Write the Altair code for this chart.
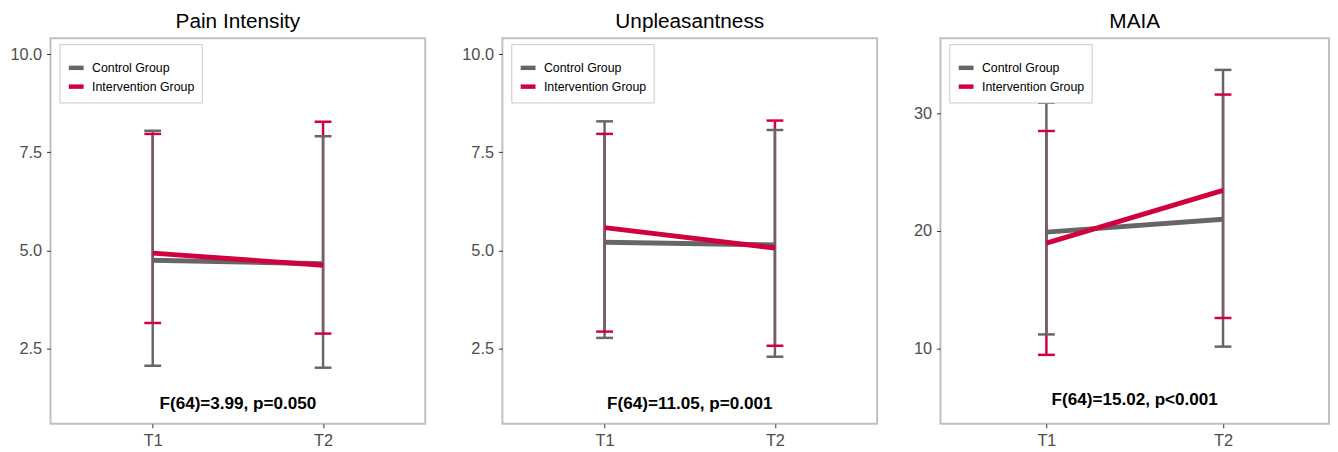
import altair as alt
import pandas as pd

times = ["T1", "T2"]
groups = ["Control Group", "Intervention Group"]
group_colors = ["#666666", "#D1003F"]

titles = ["Pain Intensity", "Unpleasantness", "MAIA"]
stats_text = ["F(64)=3.99, p=0.050", "F(64)=11.05, p=0.001", "F(64)=15.02, p<0.001"]
stats_y = [1.08, 1.08, 5.57]

pain_mean_ctrl = [4.75, 4.66]
pain_low_ctrl = [2.06, 2.01]
pain_high_ctrl = [8.05, 7.91]
pain_mean_int = [4.93, 4.62]
pain_low_int = [3.15, 2.88]
pain_high_int = [7.97, 8.28]

unp_mean_ctrl = [5.21, 5.14]
unp_low_ctrl = [2.77, 2.29]
unp_high_ctrl = [8.29, 8.07]
unp_mean_int = [5.58, 5.06]
unp_low_int = [2.93, 2.57]
unp_high_int = [7.97, 8.31]

maia_mean_ctrl = [19.89, 20.99]
maia_low_ctrl = [11.18, 10.14]
maia_high_ctrl = [30.9, 33.7]
maia_mean_int = [18.96, 23.45]
maia_low_int = [9.44, 12.58]
maia_high_int = [28.5, 31.6]

y_domains = [[0.58, 10.41], [0.58, 10.41], [3.57, 36.4]]
y_ticks = [[2.5, 5.0, 7.5, 10.0], [2.5, 5.0, 7.5, 10.0], [10, 20, 30]]
y_formats = [".1f", ".1f", "d"]
panel_widths = [379, 379, 393]
panel_height = 390

FONT = "Liberation Sans"

panel_data = [
    (pain_mean_ctrl, pain_low_ctrl, pain_high_ctrl, pain_mean_int, pain_low_int, pain_high_int),
    (unp_mean_ctrl, unp_low_ctrl, unp_high_ctrl, unp_mean_int, unp_low_int, unp_high_int),
    (maia_mean_ctrl, maia_low_ctrl, maia_high_ctrl, maia_mean_int, maia_low_int, maia_high_int),
]


def make_panel(i):
    mc, lc, hc, mi, li, hi = panel_data[i]
    w = panel_widths[i]
    rows = []
    # intervention first so control error bars are drawn on top
    for g, m, lo, hi_ in [(groups[1], mi, li, hi), (groups[0], mc, lc, hc)]:
        for t, a, b, c in zip(times, m, lo, hi_):
            rows.append({"time": t, "group": g, "mean": a, "low": b, "high": c})
    err_df = pd.DataFrame(rows)
    line_rows = []
    for g, m in [(groups[0], mc), (groups[1], mi)]:
        for t, a in zip(times, m):
            line_rows.append({"time": t, "group": g, "mean": a})
    line_df = pd.DataFrame(line_rows)

    x = alt.X("time:N", scale=alt.Scale(type="point", padding=0.6, domain=times),
              axis=alt.Axis(title=None, labelAngle=0))
    yscale = alt.Scale(domain=y_domains[i], nice=False, zero=False)
    yaxis = alt.Axis(title=None, values=y_ticks[i], format=y_formats[i])
    color_scale = alt.Scale(domain=groups, range=group_colors)
    legend = alt.Legend(
        title=" ", titleFontSize=5, titlePadding=2,
        orient="none", legendX=9, legendY=6,
        fillColor="white", strokeColor="#C8C8C8", padding=7,
        labelFontSize=12.5, labelColor="black", labelFont=FONT,
        symbolType="stroke", symbolStrokeWidth=4.5, symbolSize=225,
        symbolOpacity=1, rowPadding=-6.2, labelOffset=6,
    )

    rules = alt.Chart(err_df).mark_rule(strokeWidth=2.5, opacity=1).encode(
        x=x,
        y=alt.Y("low:Q", scale=yscale, axis=yaxis),
        y2="high:Q",
        color=alt.Color("group:N", scale=color_scale, legend=legend),
    )
    caps_low = alt.Chart(err_df).mark_tick(size=17, thickness=2.5, opacity=1).encode(
        x=x, y=alt.Y("low:Q", scale=yscale),
        color=alt.Color("group:N", scale=color_scale),
    )
    caps_high = alt.Chart(err_df).mark_tick(size=17, thickness=2.5, opacity=1).encode(
        x=x, y=alt.Y("high:Q", scale=yscale),
        color=alt.Color("group:N", scale=color_scale),
    )
    lines = alt.Chart(line_df).mark_line(strokeWidth=5, opacity=1).encode(
        x=x, y=alt.Y("mean:Q", scale=yscale),
        color=alt.Color("group:N", scale=color_scale),
        detail="group:N",
    )
    text_df = pd.DataFrame({"label": [stats_text[i]], "y": [stats_y[i]]})
    text = alt.Chart(text_df).mark_text(
        fontSize=17.3, fontWeight="bold", font=FONT, color="black", baseline="middle"
    ).encode(
        x=alt.value(w / 2), y=alt.Y("y:Q", scale=yscale), text="label:N"
    )
    return alt.layer(rules, caps_low, caps_high, lines, text).properties(
        width=w, height=panel_height,
        title=alt.Title(titles[i], fontSize=21, font=FONT, fontWeight="normal",
                        color="black", offset=6),
    )


chart = alt.hconcat(*[make_panel(i) for i in range(3)], spacing=34).resolve_scale(
    color="independent", y="independent", x="independent"
).resolve_legend(color="independent").properties(padding=0).configure_view(
    stroke="#C0C0C0", strokeWidth=2
).configure_axis(
    grid=False, domain=False, labelFontSize=16.5, labelColor="#4D4D4D",
    labelFont=FONT, tickColor="#333333", tickSize=4, labelPadding=5, tickWidth=1
)

chart.save("out.html", embed_options={"renderer": "svg", "actions": False})
